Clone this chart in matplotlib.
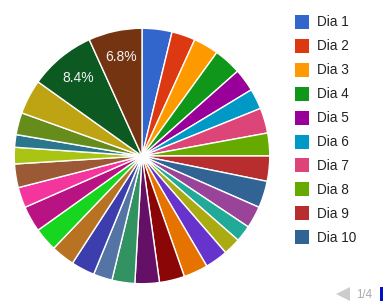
import numpy as np
import matplotlib
matplotlib.use("Agg")
import matplotlib.pyplot as plt
from matplotlib.patches import Rectangle, Polygon

plt.rcParams['font.family'] = ['Liberation Sans', 'DejaVu Sans']

days = ["Dia %d" % i for i in range(1, 32)]
shares = [3.8, 3.0, 3.2, 3.5, 2.9, 2.6, 3.2, 2.9, 3.2, 3.4,
          2.8, 2.1, 2.2, 2.9, 3.1, 3.2, 3.1, 2.9, 2.4, 3.0,
          3.0, 3.0, 3.3, 2.6, 3.0, 2.1, 1.6, 2.8, 4.4, 8.4, 6.8]

# Google Charts default palette
colors = ["#3366cc", "#dc3912", "#ff9900", "#109618", "#990099", "#0099c6",
          "#dd4477", "#66aa00", "#b82e2e", "#316395", "#994499", "#22aa99",
          "#aaaa11", "#6633cc", "#e67300", "#8b0707", "#651067", "#329262",
          "#5574a6", "#3b3eac", "#b77322", "#16d620", "#b91383", "#f4359e",
          "#9c5935", "#a9c413", "#2a778d", "#668d1c", "#bea413", "#0c5922",
          "#743411"]

W, H = 383, 304
fig = plt.figure(figsize=(W / 100, H / 100), dpi=100)

# pie axes, centre (142, 156) px, radius 129 px
cx, cy, r = 142, 156, 129
ax = fig.add_axes([(cx - r) / W, (H - cy - r) / H, 2 * r / W, 2 * r / H])


def pct_label(p):
    return "%.1f%%" % p if p > 5 else ""


wedges, texts, autotexts = ax.pie(
    shares, colors=colors, startangle=90, counterclock=False,
    radius=1, autopct=pct_label, pctdistance=0.79,
    wedgeprops=dict(edgecolor="white", linewidth=1.0),
    textprops=dict(color="#f4f4f4", fontsize=10))
ax.set_xlim(-1.01, 1.01)
ax.set_ylim(-1.01, 1.01)
ax.set_aspect("equal")
ax.axis("off")

# legend (first page of 10) and pager, in pixel coordinates
lg = fig.add_axes([0, 0, 1, 1])
lg.set_xlim(0, W)
lg.set_ylim(H, 0)
lg.axis("off")
row0, step = 22, 23.9
for i in range(10):
    y = row0 + i * step
    lg.add_patch(Rectangle((295, y - 7), 14, 14, facecolor=colors[i],
                           edgecolor="none"))
    lg.text(317, y + 0.5, days[i], fontsize=9.8, color="#222222",
            va="center", ha="left")

lg.add_patch(Polygon([[336, 294], [350, 287], [350, 301]], closed=True,
                     facecolor="#cccccc", edgecolor="none"))
lg.text(356, 294.5, "1/4", fontsize=8.3, color="#aaaaaa", va="center",
        ha="left")
lg.add_patch(Rectangle((380, 287), 6, 14, facecolor="#0011cc",
                       edgecolor="none", clip_on=False))

fig.savefig("out.png", dpi=100)
